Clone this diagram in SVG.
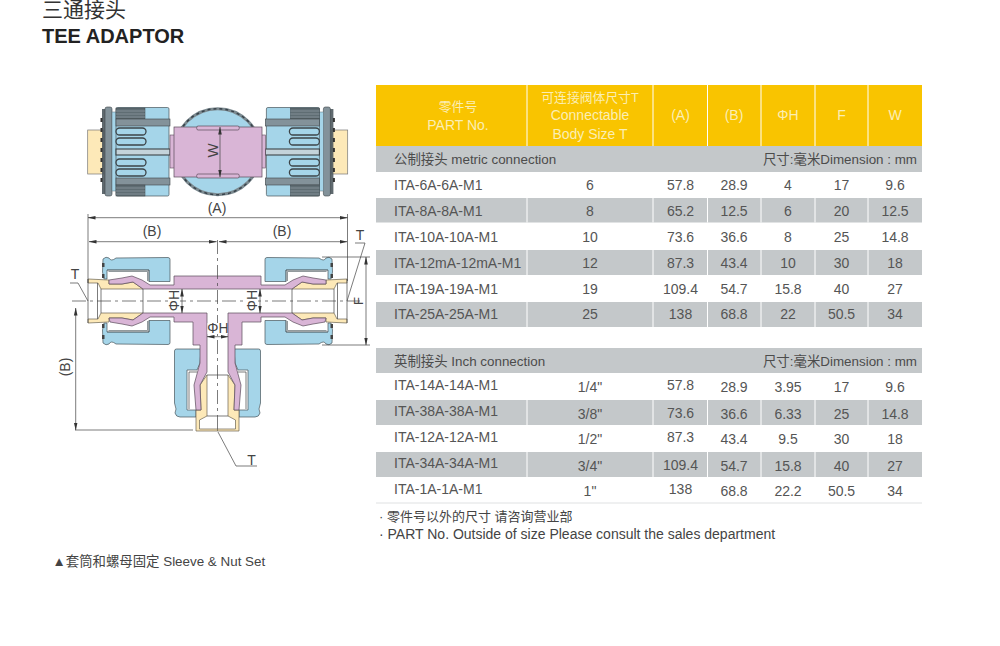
<svg xmlns="http://www.w3.org/2000/svg" xmlns:xlink="http://www.w3.org/1999/xlink" width="1000" height="646" viewBox="0 0 1000 646">
<style>
text{font-family:"Liberation Sans","Noto Sans CJK SC",sans-serif;fill:#555}
.t{font-size:14px}
.c{font-size:14px;text-anchor:middle}
.h{font-size:14px;text-anchor:middle;fill:#fbeeb4}
.hc{font-size:12.800px;text-anchor:middle;fill:#fbeeb4}
.band{font-size:13.400px;fill:#4c4c4c}
.dim{font-size:14px;text-anchor:middle;fill:#444}
.y{fill:#f9c400}.g{fill:#c4c8ca}
.blue{fill:#a5d5e9;stroke:#48555a;stroke-width:.7}
.pink{fill:#d9b5d6;stroke:#5a4a5a;stroke-width:.7}
.yel{fill:#fde9b8;stroke:#6a6350;stroke-width:.7}
.ln{fill:none;stroke:#444;stroke-width:.7}
.dash{fill:none;stroke:#444;stroke-width:.7;stroke-dasharray:14 4 3 4}
.dm{fill:none;stroke:#444;stroke-width:.7;marker-start:url(#a);marker-end:url(#a)}
.dk{fill:#5f6d73;stroke:#3c4448;stroke-width:.5}
.md{fill:#83929a;stroke:#3c4448;stroke-width:.6}
.slot{fill:#a5d5e9;stroke:#3c4448;stroke-width:1.300}
.div{stroke:#fff;stroke-width:1}
</style>
<defs>
<marker id="a" viewBox="0 0 8 6" refX="7.500" refY="3" markerWidth="8" markerHeight="6" orient="auto-start-reverse" markerUnits="userSpaceOnUse"><path d="M0 1.200L8 3L0 4.800z" fill="#333"/></marker>
<g id="fit">
<rect x="87.700" y="130" width="16" height="44" fill="#fde9b8" stroke="#777" stroke-width=".7"/>
<rect x="102" y="109" width="4" height="85" fill="#4e595e" opacity="0.900"/>
<path d="M102 112h-0M101.500 118v4M101.500 128v4M101.500 138v4M101.500 148v4M101.500 158v4M101.500 168v4M101.500 178v4" stroke="#333" stroke-width="2"/>
<rect x="105" y="107" width="7" height="89" rx="2" class="md"/>
<rect x="112" y="112" width="5" height="79" fill="#a5d5e9" stroke="#607078" stroke-width=".5"/>
<rect x="116" y="107.500" width="53" height="88.500" rx="1.500" class="blue"/>
<rect x="116" y="108" width="29" height="11" class="dk"/>
<path d="M116 111H145M116 114H145M116 117H145" stroke="#8b989e" stroke-width=".8"/>
<rect x="116" y="119" width="54" height="7" class="md"/>
<rect x="116" y="149" width="54" height="6" fill="#c4d3da" stroke="#3c4448" stroke-width="1.100"/>
<rect x="116" y="178" width="54" height="7" class="md"/>
<rect x="116" y="185" width="29" height="11" class="dk"/>
<path d="M116 188H145M116 191H145M116 194H145" stroke="#8b989e" stroke-width=".8"/>
<rect x="116" y="128" width="30" height="7" rx="3.500" class="slot"/>
<rect x="116" y="138" width="30" height="7" rx="3.500" class="slot"/>
<rect x="116" y="159" width="30" height="7" rx="3.500" class="slot"/>
<rect x="116" y="169" width="30" height="7" rx="3.500" class="slot"/>
<rect x="170" y="135" width="4.500" height="33" fill="#d9b5d6" stroke="#5a4a5a" stroke-width=".6"/>
</g>
<g id="nutH">
<path class="blue" d="M103 259Q106 256 109 258Q111 262 116 258L168 257.500Q170 257.500 170 259.500L170 281.500L149 281.500L149 270L107 270L107 279L104 279L102.500 272z"/>
<path d="M107 270H149V281.500M108.500 271.500H147.500V281" fill="none" stroke="#48555a" stroke-width=".6"/>
<rect x="102" y="263" width="2.500" height="4" fill="#444"/><rect x="102" y="274" width="2.500" height="4" fill="#444"/>
</g>
<g id="yelH">
<path class="yel" d="M88 279L109 280L109 284L122 284L133 282L143 289L101 289L98 283L88 283z"/>
</g>
<g id="lowerHalf">
<path class="blue" d="M174.500 351Q174.500 349 176.500 349L201 349L200 363L197 370L187 370L187 410L196 410L196 417L180 417Q176 417 175 413Q177 409 175 405L174.500 403z"/>
<path class="ln" d="M189 372H197M189 372V409"/>
<path class="yel" d="M207 375L200 385L201 410L196 410L196 431L217.500 431L217.500 429L199.500 429L199.500 420L207 416z"/>
<path class="pink" d="M109 318L122 318L133 320L143 313L207 313L207 372L200 385L201 410L196 410L194 385L200 363L200 345L193 345L193 322L174 322L174 317L150 317L142 322L132 326L122 324L110 322z"/>
</g>
</defs>
<rect width="1000" height="646" fill="#fff"/>

<g id="title">
<text x="42" y="17" style="font-size:21px;fill:#333">三通接头</text>
<text x="42" y="43" style="font-size:20px;font-weight:700;fill:#222">TEE ADAPTOR</text>
</g>

<g id="top-view">
<circle cx="217.700" cy="151.700" r="43" fill="#a5d5e9" stroke="#7c8a90" stroke-width="3"/>
<circle cx="217.700" cy="151.700" r="43" fill="none" stroke="#38424a" stroke-width="1.500" stroke-dasharray="3 3"/>
<use xlink:href="#fit" href="#fit"/>
<use xlink:href="#fit" href="#fit" transform="matrix(-1 0 0 1 435.400 0)"/>
<rect x="174" y="127" width="88" height="50" class="pink"/>
<rect x="196.700" y="126" width="42.500" height="4" rx="1.500" class="pink"/>
<rect x="196.700" y="174" width="42.500" height="4" rx="1.500" class="pink"/>
<path class="dm" d="M220 127V177"/>
<text transform="translate(217.500 150.500) rotate(-90)" style="font-size:15px;text-anchor:middle;fill:#444">W</text>
<text x="217" y="213" class="dim">(A)</text>
<path class="dm" d="M88 217.700H347.500"/>
</g>

<g id="section-view">
<use xlink:href="#nutH" href="#nutH"/>
<use xlink:href="#nutH" href="#nutH" transform="matrix(-1 0 0 1 435 0)"/>
<use xlink:href="#nutH" href="#nutH" transform="matrix(1 0 0 -1 0 602)"/>
<use xlink:href="#nutH" href="#nutH" transform="matrix(-1 0 0 -1 435 602)"/>
<use xlink:href="#yelH" href="#yelH"/>
<use xlink:href="#yelH" href="#yelH" transform="matrix(-1 0 0 1 435 0)"/>
<use xlink:href="#yelH" href="#yelH" transform="matrix(1 0 0 -1 0 602)"/>
<use xlink:href="#yelH" href="#yelH" transform="matrix(-1 0 0 -1 435 602)"/>
<path class="pink" d="M109 280L122 278L132 276L142 280L150 285L174 285L174 276L261 276L261 285L285 285L293 280L303 276L313 278L326 280L326 284L313 284L302 282L292 289L143 289L133 282L122 284L109 284z"/>
<use xlink:href="#lowerHalf" href="#lowerHalf"/>
<use xlink:href="#lowerHalf" href="#lowerHalf" transform="matrix(-1 0 0 1 435 0)"/>
<path class="ln" d="M143 289V313M101 289V313M97.500 283V319M88 279V323M292 289V313M334 289V313M337.500 283V319M347 279V323M207 375H228M207 416H228"/>
</g>

<g id="connectors">
<path class="ln" d="M88 214V283M347.500 214V281M75 430H193M322 257H370M322 345H370M70 283H78L88 301M355 243H365L347 301M218 432L236 466H257"/>
<path class="dash" d="M72 301H360M217.500 240V432"/>
<path class="dm" d="M89 241.700H216.500"/>
<path class="dm" d="M219 241.700H347"/>
<path class="dm" d="M75.700 308V430"/>
<path class="dm" d="M366 257V345"/>
<path class="dm" d="M182 289V313"/>
<path class="dm" d="M260 289V313"/>
<path class="dm" d="M207 336.700H228"/>
</g>

<g id="section-labels">
<rect x="168" y="290" width="12" height="22" fill="#fff"/>
<rect x="246" y="290" width="12" height="22" fill="#fff"/>
<rect x="207.500" y="323" width="20" height="11" fill="#fff"/>
<text x="152" y="236" class="dim">(B)</text>
<text x="282" y="236" class="dim">(B)</text>
<text transform="translate(70 367) rotate(-90)" class="dim">(B)</text>
<text x="75" y="279" class="dim">T</text>
<text x="360" y="240" class="dim">T</text>
<text x="251.500" y="465" class="dim">T</text>
<text transform="translate(363 301) rotate(-90)" class="dim" style="font-size:13px">F</text>
<text transform="translate(178.500 300.500) rotate(-90)" class="dim">ΦH</text>
<text transform="translate(256.500 300.500) rotate(-90)" class="dim">ΦH</text>
<text x="218" y="333" class="dim">ΦH</text>
</g>

<g id="table-header">
<rect x="376" y="85" width="546" height="61" class="y"/>
<path class="div" d="M527 85V146M653 85V146M707.500 85V146M761 85V146M815 85V146M868 85V146"/>
<text x="458" y="111" class="hc">零件号</text>
<text x="458" y="130" class="h">PART No.</text>
<text x="590" y="102" class="hc">可连接阀体尺寸T</text>
<text x="590" y="120" class="h">Connectable</text>
<text x="590" y="139" class="h">Body Size T</text>
<text x="680.500" y="120" class="h">(A)</text>
<text x="734" y="120" class="h">(B)</text>
<text x="788" y="120" class="h">ΦH</text>
<text x="841.500" y="120" class="h">F</text>
<text x="895" y="120" class="h">W</text>
</g>

<g id="table-metric">
<rect x="376" y="146" width="546" height="26" class="g"/>
<text x="394" y="164" class="band">公制接头 metric connection</text>
<text x="917" y="164" class="band" style="text-anchor:end">尺寸:毫米Dimension : mm</text>
<rect x="376" y="198" width="546" height="24.500" class="g"/>
<rect x="376" y="250" width="546" height="25" class="g"/>
<rect x="376" y="302" width="546" height="25" class="g"/>
<path class="div" d="M527 198V222.500M653 198V222.500M707.500 198V222.500M761 198V222.500M815 198V222.500M868 198V222.500M527 250V275M653 250V275M707.500 250V275M761 250V275M815 250V275M868 250V275M527 302V327M653 302V327M707.500 302V327M761 302V327M815 302V327M868 302V327"/>
<g>
<text x="394" y="190" class="t">ITA-6A-6A-M1</text><text x="590" y="190" class="c">6</text><text x="680.500" y="190" class="c">57.8</text><text x="734" y="190" class="c">28.9</text><text x="788" y="190" class="c">4</text><text x="841.500" y="190" class="c">17</text><text x="895" y="190" class="c">9.6</text>
<text x="394" y="216" class="t">ITA-8A-8A-M1</text><text x="590" y="216" class="c">8</text><text x="680.500" y="216" class="c">65.2</text><text x="734" y="216" class="c">12.5</text><text x="788" y="216" class="c">6</text><text x="841.500" y="216" class="c">20</text><text x="895" y="216" class="c">12.5</text>
<text x="394" y="242" class="t">ITA-10A-10A-M1</text><text x="590" y="242" class="c">10</text><text x="680.500" y="242" class="c">73.6</text><text x="734" y="242" class="c">36.6</text><text x="788" y="242" class="c">8</text><text x="841.500" y="242" class="c">25</text><text x="895" y="242" class="c">14.8</text>
<text x="394" y="268" class="t">ITA-12mA-12mA-M1</text><text x="590" y="268" class="c">12</text><text x="680.500" y="268" class="c">87.3</text><text x="734" y="268" class="c">43.4</text><text x="788" y="268" class="c">10</text><text x="841.500" y="268" class="c">30</text><text x="895" y="268" class="c">18</text>
<text x="394" y="294" class="t">ITA-19A-19A-M1</text><text x="590" y="294" class="c">19</text><text x="680.500" y="294" class="c">109.4</text><text x="734" y="294" class="c">54.7</text><text x="788" y="294" class="c">15.8</text><text x="841.500" y="294" class="c">40</text><text x="895" y="294" class="c">27</text>
<text x="394" y="319" class="t">ITA-25A-25A-M1</text><text x="590" y="319" class="c">25</text><text x="680.500" y="319" class="c">138</text><text x="734" y="319" class="c">68.8</text><text x="788" y="319" class="c">22</text><text x="841.500" y="319" class="c">50.5</text><text x="895" y="319" class="c">34</text>
</g>
</g>

<g id="table-inch">
<rect x="376" y="348" width="546" height="25" class="g"/>
<text x="394" y="366" class="band">英制接头 Inch connection</text>
<text x="917" y="366" class="band" style="text-anchor:end">尺寸:毫米Dimension : mm</text>
<rect x="376" y="400" width="546" height="25" class="g"/>
<rect x="376" y="452" width="546" height="25" class="g"/>
<path class="div" d="M527 400V425M653 400V425M707.500 400V425M761 400V425M815 400V425M868 400V425M527 452V477M653 452V477M707.500 452V477M761 452V477M815 452V477M868 452V477"/>
<path d="M376 503H922" stroke="#dfe1e2" stroke-width="1"/>
<g>
<text x="394" y="390" class="t">ITA-14A-14A-M1</text><text x="590" y="392" class="c">1/4"</text><text x="680.500" y="390" class="c">57.8</text><text x="734" y="392" class="c">28.9</text><text x="788" y="392" class="c">3.95</text><text x="841.500" y="392" class="c">17</text><text x="895" y="392" class="c">9.6</text>
<text x="394" y="416" class="t">ITA-38A-38A-M1</text><text x="590" y="419" class="c">3/8"</text><text x="680.500" y="418" class="c">73.6</text><text x="734" y="419" class="c">36.6</text><text x="788" y="419" class="c">6.33</text><text x="841.500" y="419" class="c">25</text><text x="895" y="419" class="c">14.8</text>
<text x="394" y="442" class="t">ITA-12A-12A-M1</text><text x="590" y="444" class="c">1/2"</text><text x="680.500" y="442" class="c">87.3</text><text x="734" y="444" class="c">43.4</text><text x="788" y="444" class="c">9.5</text><text x="841.500" y="444" class="c">30</text><text x="895" y="444" class="c">18</text>
<text x="394" y="468" class="t">ITA-34A-34A-M1</text><text x="590" y="471" class="c">3/4"</text><text x="680.500" y="470" class="c">109.4</text><text x="734" y="471" class="c">54.7</text><text x="788" y="471" class="c">15.8</text><text x="841.500" y="471" class="c">40</text><text x="895" y="471" class="c">27</text>
<text x="394" y="494" class="t">ITA-1A-1A-M1</text><text x="590" y="496" class="c">1"</text><text x="680.500" y="494" class="c">138</text><text x="734" y="496" class="c">68.8</text><text x="788" y="496" class="c">22.2</text><text x="841.500" y="496" class="c">50.5</text><text x="895" y="496" class="c">34</text>
</g>
</g>

<g id="notes">
<text x="379" y="521" style="font-size:13px;fill:#444">· 零件号以外的尺寸 请咨询营业部</text>
<text x="379" y="539" class="t" style="fill:#444">· PART No. Outside of size Please consult the sales department</text>
<text x="52.500" y="566" style="font-size:13.400px;fill:#444">▲套筒和螺母固定 Sleeve &amp; Nut Set</text>
</g>
</svg>
